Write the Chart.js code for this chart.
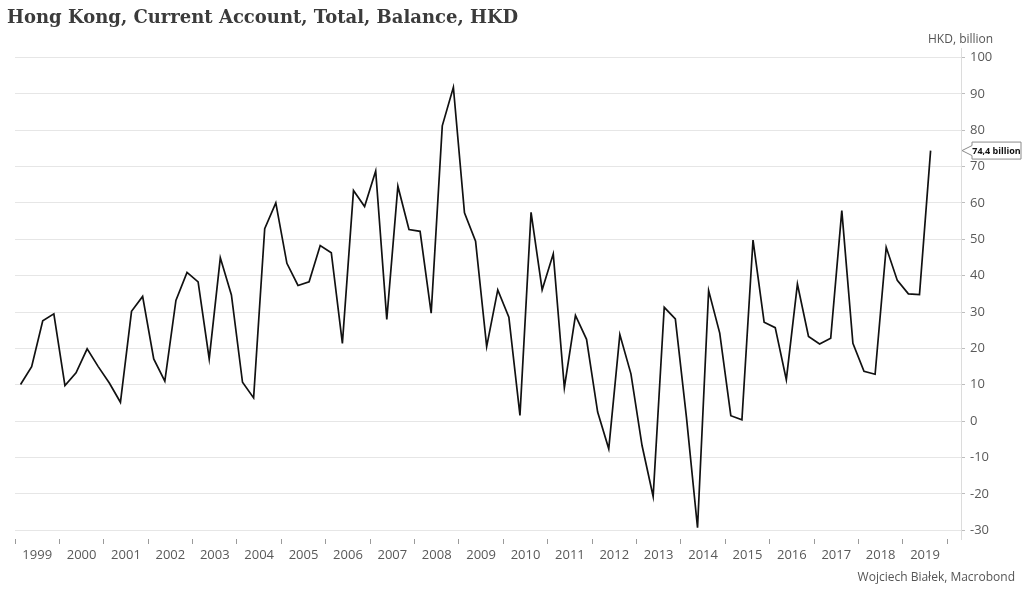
<!DOCTYPE html>
<html>
<head>
<meta charset="utf-8">
<script src="https://cdn.jsdelivr.net/npm/chart.js@4/dist/chart.umd.min.js"></script>
<style>
  html, body { margin: 0; padding: 0; background: #fff; }
  #wrap { position: relative; width: 1024px; height: 594px; }
  #title { position: absolute; left: 7px; top: 6px; font: bold 18px "DejaVu Serif", serif; color: #3b3b3b; white-space: nowrap; }
  #unit { position: absolute; left: 928px; top: 30px; font: 12px "Open Sans", sans-serif; color: #555; }
  #source { position: absolute; right: 9px; top: 568px; font: 12px "Open Sans", sans-serif; color: #555; }
</style>
</head>
<body>
<div id="wrap">
  <canvas id="chart" width="1024" height="594"></canvas>
  <div id="title">Hong Kong, Current Account, Total, Balance, HKD</div>
  <div id="unit">HKD, billion</div>
  <div id="source">Wojciech Białek, Macrobond</div>
</div>
<script>
// quarterly data, 1999 Q1 .. 2019 Q3
const years = ['1999', '2000', '2001', '2002', '2003', '2004', '2005', '2006', '2007', '2008',
               '2009', '2010', '2011', '2012', '2013', '2014', '2015', '2016', '2017', '2018', '2019'];

const balance = [
    10.1, 15.0, 27.6, 29.5,   // 1999
    9.8, 13.3, 19.9, 15.0,    // 2000
    10.5, 5.2, 30.2, 34.3,    // 2001
    17.1, 11.0, 33.2, 40.9,   // 2002
    38.3, 17.1, 44.9, 34.7,   // 2003
    10.7, 6.4, 52.9, 60.0,    // 2004
    43.4, 37.3, 38.3, 48.3,   // 2005
    46.3, 21.4, 63.4, 59.0,   // 2006
    68.8, 28.0, 64.6, 52.7,   // 2007
    52.2, 29.7, 81.2, 91.8,   // 2008
    57.3, 49.5, 20.5, 36.1,   // 2009
    28.6, 1.6, 57.4, 36.1,    // 2010
    46.0, 9.2, 29.1, 22.5,    // 2011
    2.5, -7.6, 23.8, 13.0,    // 2012
    -6.7, -20.7, 31.3, 28.1,  // 2013
    1.1, -29.3, 35.9, 24.2,   // 2014
    1.5, 0.4, 49.8, 27.2,     // 2015
    25.7, 11.4, 37.7, 23.3,   // 2016
    21.2, 22.8, 57.9, 21.4,   // 2017
    13.7, 12.9, 47.8, 38.7,   // 2018
    35.0, 34.8, 74.4          // 2019
];

const yTicks = [-30, -20, -10, 0, 10, 20, 30, 40, 50, 60, 70, 80, 90, 100];

const points = balance.map((v, i) => ({ x: i, y: v }));
const lastValue = balance[balance.length - 1];

// year boundaries get tick marks, year centres get the labels
function yearTicks() {
    const ticks = [];
    years.forEach((y, i) => {
        ticks.push({ value: i * 4 - 0.5 });
        ticks.push({ value: i * 4 + 1.5 });
    });
    ticks.push({ value: years.length * 4 - 0.5 });
    return ticks;
}

function isBoundary(v) {
    return (v + 0.5) % 4 === 0;
}

// callout box with the last value next to the axis
const lastValueLabel = {
    id: 'lastValueLabel',
    afterDraw(chart) {
        const ctx = chart.ctx;
        const area = chart.chartArea;
        const y = chart.scales.y.getPixelForValue(lastValue);
        const x0 = area.right + 1;
        const bx = x0 + 10;
        const bw = 49;
        const h = 8.5;
        ctx.save();
        ctx.beginPath();
        ctx.moveTo(x0, y);
        ctx.lineTo(bx, y - 5);
        ctx.lineTo(bx, y - h);
        ctx.lineTo(bx + bw, y - h);
        ctx.lineTo(bx + bw, y + h);
        ctx.lineTo(bx, y + h);
        ctx.lineTo(bx, y + 5);
        ctx.closePath();
        ctx.fillStyle = '#fff';
        ctx.fill();
        ctx.strokeStyle = '#8a8a8a';
        ctx.lineWidth = 1;
        ctx.stroke();
        ctx.fillStyle = '#111';
        ctx.font = 'bold 9px "Open Sans", sans-serif';
        ctx.textAlign = 'center';
        ctx.textBaseline = 'middle';
        ctx.fillText(lastValue.toFixed(1).replace('.', ',') + ' billion', bx + bw / 2, y + 0.5);
        ctx.restore();
    }
};

new Chart(document.getElementById('chart'), {
    type: 'line',
    data: {
        datasets: [{
            data: points,
            borderColor: '#111',
            borderWidth: 1.7,
            pointRadius: 0,
            tension: 0,
            fill: false
        }]
    },
    options: {
        responsive: false,
        animation: false,
        layout: { padding: { left: 15, top: 48, right: 0, bottom: 0 } },
        plugins: {
            legend: { display: false },
            title: { display: false },
            tooltip: { enabled: false }
        },
        scales: {
            x: {
                type: 'linear',
                min: -0.5,
                max: 84.74,
                afterBuildTicks: scale => { scale.ticks = yearTicks(); },
                afterFit: scale => { scale.height = 55; },
                grid: {
                    drawOnChartArea: false,
                    drawTicks: true,
                    tickLength: 5,
                    tickColor: ctx => (ctx.tick && isBoundary(ctx.tick.value)) ? '#9a9a9a' : 'rgba(0,0,0,0)'
                },
                border: { display: false },
                ticks: {
                    autoSkip: false,
                    maxRotation: 0,
                    padding: 3,
                    color: '#595959',
                    font: { family: '"Open Sans", sans-serif', size: 13 },
                    callback: v => isBoundary(v) ? '' : years[(v - 1.5) / 4]
                }
            },
            y: {
                position: 'right',
                min: -32.4,
                max: 102.6,
                afterBuildTicks: scale => { scale.ticks = yTicks.map(v => ({ value: v })); },
                afterFit: scale => { scale.width = 63; },
                grid: {
                    color: '#e6e6e6',
                    lineWidth: 1,
                    tickLength: 4,
                    tickColor: '#bdbdbd'
                },
                border: { display: true, color: '#dcdcdc' },
                ticks: {
                    padding: 5,
                    color: '#595959',
                    font: { family: '"Open Sans", sans-serif', size: 13 }
                }
            }
        }
    },
    plugins: [lastValueLabel]
});
</script>
</body>
</html>
